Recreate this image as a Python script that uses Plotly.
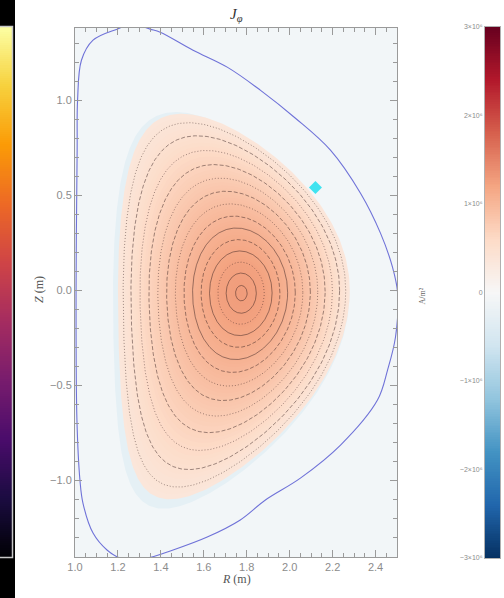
import numpy as np
import plotly.graph_objects as go
from plotly.colors import sample_colorscale

W, H = 504, 598

# ---------------- data ----------------
# vessel wall (blue curve), R and Z in metres
wall_R = [1.005, 1.010, 1.012, 1.030, 1.084, 1.196, 1.27, 1.35, 1.397, 1.55, 1.709, 1.863,
          2.027, 2.19, 2.33, 2.423, 2.479, 2.503, 2.493, 2.456, 2.409, 2.237, 2.05, 1.887,
          1.77, 1.616, 1.457, 1.336, 1.21, 1.149, 1.084, 1.037, 1.023, 1.009, 1.005]
wall_Z = [0.0, 0.74, 1.0, 1.21, 1.316, 1.374, 1.40, 1.374, 1.358, 1.263, 1.174, 1.053,
          0.905, 0.737, 0.51, 0.30, 0.121, -0.016, -0.247, -0.421, -0.579, -0.816, -0.99, -1.105,
          -1.21, -1.30, -1.368, -1.41, -1.41, -1.368, -1.279, -1.121, -1.0, -0.684, 0.0]

# plasma shape parameters (m)
R_axis, Z_axis = 1.775, -0.016
R_geo, Z_geo = 1.74, 0.0
a_minor = 0.54
kappa_axis, kappa_up, kappa_low = 1.5, 1.72, 2.04
delta_up, delta_low = 0.45, 0.55

# J_phi profile vs normalised radius (units of 1e6 A/m^2)
rho_prof = [0.0, 0.2, 0.4, 0.6, 0.8, 0.9, 1.0]
J_prof = [1.28, 1.23, 1.08, 0.88, 0.64, 0.50, 0.36]

# flux-surface contour levels and styles
rho_contours = [0.05, 0.13, 0.20, 0.27, 0.34, 0.41, 0.48, 0.55, 0.62, 0.69, 0.76, 0.83, 0.90, 0.96]
contour_dash = ['solid', 'solid', '1px,2px', 'solid', '4px,2px', 'solid', '4px,2px', '1px,2px',
                '4px,2px', '1px,2px', '4px,2px', '1px,2px', '4px,2px', '1px,2px']

# marker
marker_R, marker_Z = [2.12], [0.54]

# colour bar ticks
cb_vals = [-3, -2, -1, 0, 1, 2, 3]
cb_text = ['−3×10⁶', '−2×10⁶', '−1×10⁶', '0', '1×10⁶', '2×10⁶', '3×10⁶']

rdbu = [[0.0, 'rgb(5,48,97)'], [0.1, 'rgb(33,102,172)'], [0.2, 'rgb(67,147,195)'],
        [0.3, 'rgb(146,197,222)'], [0.4, 'rgb(209,229,240)'], [0.5, 'rgb(247,247,247)'],
        [0.6, 'rgb(253,219,199)'], [0.7, 'rgb(244,165,130)'], [0.8, 'rgb(214,96,77)'],
        [0.9, 'rgb(178,24,43)'], [1.0, 'rgb(103,0,31)']]


def surface(rho, n=361, dR=0.0, dZ=0.0):
    th = np.linspace(0, 2 * np.pi, n)
    Rc = R_axis + (R_geo - R_axis) * min(rho, 1.0) ** 2 + dR
    Zc = Z_axis + (Z_geo - Z_axis) * min(rho, 1.0) ** 2 + dZ
    up = np.sin(th) >= 0
    kap = np.where(up, kappa_axis + (kappa_up - kappa_axis) * rho ** 2,
                   kappa_axis + (kappa_low - kappa_axis) * rho ** 2)
    dl = np.clip(np.where(up, delta_up, delta_low) * rho ** 2, 0, 0.95)
    R = Rc + a_minor * rho * np.cos(th + np.arcsin(dl) * np.sin(th))
    Z = Zc + kap * a_minor * rho * np.sin(th)
    return R, Z


fig = go.Figure()

# faint halo outside plasma edge (mostly low-left side)
hR, hZ = surface(1.02, dR=-0.012, dZ=-0.015)
fig.add_trace(go.Scatter(x=hR, y=hZ, mode='lines', fill='toself', line=dict(width=0),
                         fillcolor='rgb(229,240,245)', hoverinfo='skip'))

# nested filled surfaces coloured by J
fill_rhos = np.linspace(1.0, 0.02, 60)
for r in fill_rhos:
    J = float(np.interp(r, rho_prof, J_prof))
    col = sample_colorscale(rdbu, [(J + 3) / 6])[0]
    R, Z = surface(r)
    fig.add_trace(go.Scatter(x=R, y=Z, mode='lines', fill='toself', line=dict(width=0),
                             fillcolor=col, hoverinfo='skip'))

# contour lines
for r, d in zip(rho_contours, contour_dash):
    R, Z = surface(r)
    fig.add_trace(go.Scatter(x=R, y=Z, mode='lines',
                             line=dict(color='rgba(50,30,30,0.6)', width=0.8, dash=d),
                             hoverinfo='skip'))

# wall
fig.add_trace(go.Scatter(x=wall_R, y=wall_Z, mode='lines',
                         line=dict(color='#6f72d8', width=1.1, shape='spline'), hoverinfo='skip'))
# marker
fig.add_trace(go.Scatter(x=marker_R, y=marker_Z, mode='markers',
                         marker=dict(symbol='diamond', size=10, color='#3fe3f0'), hoverinfo='skip'))

# left inferno strip
lev = np.linspace(0, 1, 256)
fig.add_trace(go.Heatmap(z=[[v] for v in lev], x=[0], y=lev, colorscale='Inferno', showscale=False,
                         xaxis='x2', yaxis='y2', hoverinfo='skip'))
# right RdBu colour bar
lev2 = np.linspace(-3, 3, 301)
fig.add_trace(go.Heatmap(z=[[v] for v in lev2], x=[0], y=lev2, colorscale=rdbu, zmin=-3, zmax=3,
                         showscale=False, xaxis='x3', yaxis='y3', hoverinfo='skip'))

tickfont = dict(family='Liberation Sans', size=11, color='#8c8c8c')
fig.update_layout(
    template='none',
    width=W, height=H, margin=dict(l=0, r=0, t=0, b=0, pad=0, autoexpand=False),
    paper_bgcolor='white', plot_bgcolor='#f2f6f8', showlegend=False,
    xaxis=dict(domain=[75 / W, 397 / W], range=[1.0, 2.5], tick0=1.0, dtick=0.2, tickformat='.1f',
               ticks='inside', ticklen=7, tickcolor='#9a9a9a', showline=True, linecolor='#9a9a9a',
               mirror='ticks', showgrid=False, zeroline=False, tickfont=tickfont, automargin=False,
               minor=dict(dtick=0.05, ticks='inside', ticklen=4, tickcolor='#9a9a9a', showgrid=False)),
    yaxis=dict(domain=[41 / H, 570 / H], range=[-1.405, 1.38], tick0=0, dtick=0.5, tickformat='.1f',
               ticks='inside', ticklen=7, tickcolor='#9a9a9a', showline=True, linecolor='#9a9a9a',
               mirror='ticks', showgrid=False, zeroline=False, tickfont=tickfont, automargin=False,
               minor=dict(dtick=0.1, ticks='inside', ticklen=4, tickcolor='#9a9a9a', showgrid=False)),
    xaxis2=dict(domain=[0, 12 / W], anchor='y2', visible=False, automargin=False),
    yaxis2=dict(domain=[41 / H, 571 / H], anchor='x2', visible=False, range=[0, 1], automargin=False),
    xaxis3=dict(domain=[485 / W, 500 / W], anchor='y3', showticklabels=False, ticks='',
                showline=True, mirror=True, linecolor='#b0b0b0', showgrid=False, zeroline=False,
                automargin=False),
    yaxis3=dict(domain=[40 / H, 571 / H], anchor='x3', range=[-3, 3], side='left',
                tickvals=cb_vals, ticktext=cb_text, ticks='', showline=True, mirror=True,
                linecolor='#b0b0b0', showgrid=False, zeroline=False, automargin=False,
                tickfont=dict(family='Liberation Sans', size=7, color='#8c8c8c')),
    shapes=[
        dict(type='rect', xref='paper', yref='paper', x0=0, x1=15 / W, y0=0, y1=1,
             fillcolor='black', line=dict(width=0), layer='below'),
        dict(type='rect', xref='paper', yref='paper', x0=-2 / W, x1=12.5 / W, y0=40.5 / H, y1=571.5 / H,
             line=dict(color='#c8c8c8', width=1.5), layer='above'),
    ],
    annotations=[
        dict(text='<i>J</i><sub><i>φ</i></sub>', x=236 / W, y=1 - 26 / H, xref='paper', yref='paper',
             yanchor='bottom', showarrow=False,
             font=dict(family='Liberation Serif', size=15, color='#333')),
        dict(text='<i>R</i> (m)', x=236 / W, y=1 - 588 / H, xref='paper', yref='paper',
             showarrow=False, font=dict(family='Liberation Serif', size=12, color='#555')),
        dict(text='<i>Z</i> (m)', x=30 / W, y=1 - 290 / H, xref='paper', yref='paper', textangle=-90,
             showarrow=False, font=dict(family='Liberation Serif', size=12, color='#555')),
        dict(text='A/m²', x=428 / W, y=1 - 296 / H, xref='paper', yref='paper', textangle=-90,
             showarrow=False, font=dict(family='Liberation Serif', size=8, color='#666')),
    ],
)

fig.write_html('out.html')
